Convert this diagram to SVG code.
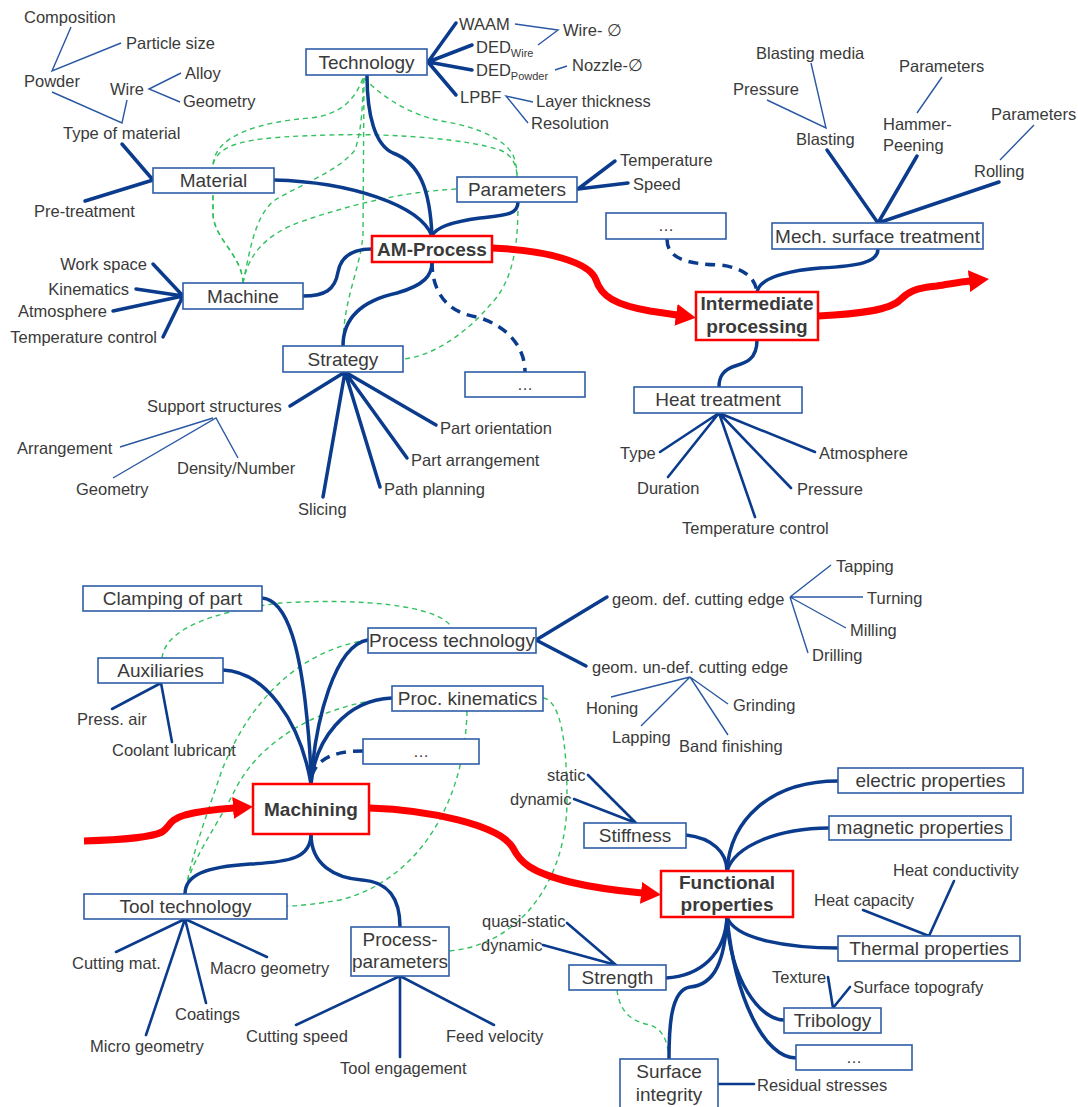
<svg xmlns="http://www.w3.org/2000/svg" width="1078" height="1107" viewBox="0 0 1078 1107">
<defs>
<style>
text{font-family:"Liberation Sans",Arial,sans-serif;fill:#3a3a3a;font-size:16.5px}
.c{text-anchor:middle;font-size:19px}
.e{text-anchor:end}
.b{font-weight:bold;text-anchor:middle;font-size:19px}
.box{fill:#fff;stroke:#2f5ea8;stroke-width:1.6}
.rbox{fill:#fff;stroke:#ff0000;stroke-width:2.5}
.k{fill:none;stroke:#0b3b8c;stroke-width:3.5;stroke-linecap:round}
.m{fill:none;stroke:#0b3b8c;stroke-width:2.6;stroke-linecap:round}
.t{fill:none;stroke:#2a58a3;stroke-width:1.4}
.d{stroke-dasharray:10 7;stroke-linecap:butt}
.g{fill:none;stroke:#33c060;stroke-width:1.4;stroke-dasharray:5 4}
.r{fill:none;stroke:#ff0000;stroke-width:7}
</style>
<marker id="ah" viewBox="0 0 20 22" refX="1" refY="11" markerWidth="20" markerHeight="22" markerUnits="userSpaceOnUse" orient="auto">
<path d="M0,0 L20,11 L0,22 z" fill="#ff0000"/>
</marker>
</defs>
<rect width="1078" height="1107" fill="#fff"/>
<g id="connectors">
<!-- green dashed relations -->
<path class="g" d="M243,283 C242,255 215,240 213,215 L213,165 C215,135 260,122 310,118 C340,115 355,100 363,78"/>
<path class="g" d="M243,283 C242,255 215,240 213,215 L213,165 C218,140 260,137 330,135 C400,133 470,140 500,150 C512,155 517,165 517,177"/>
<path class="g" d="M243,283 C250,250 255,215 275,200 C300,185 340,170 355,150 C362,130 363,100 363,78"/>
<path class="g" d="M243,283 C248,255 265,235 300,222 C350,205 400,192 457,189"/>
<path class="g" d="M364,78 L363,235 C360,270 343,300 343,346"/>
<path class="g" d="M364,78 C385,100 415,117 447,122 C480,128 505,140 513,155 C516,162 517,170 517,177"/>
<path class="g" d="M518,202 C518,240 515,280 490,305 C465,335 430,357 403,359"/>
<path class="g" d="M162,658 C165,630 210,612 280,603 C360,598 440,605 452,628"/>
<path class="g" d="M368,640 C300,650 250,700 222,770 C205,820 190,860 185,894"/>
<path class="g" d="M392,698 C320,705 260,740 235,790 C215,830 190,860 185,894"/>
<path class="g" d="M467,711 C465,800 420,880 340,900 C310,905 295,906 287,906"/>
<path class="g" d="M543,698 C560,700 567,740 567,800 C567,880 520,945 449,951"/>
<path class="g" d="M617,990 C620,1015 635,1022 650,1025 C665,1030 668,1045 669,1059"/>
<!-- thin sub-branches -->
<path class="t" d="M71,27 L52,71 L121,43"/>
<path class="t" d="M52,92 L122,123 L127,100"/>
<path class="t" d="M181,73 L149,89 L180,102"/>
<path class="t" d="M515,24 L558,30 L538,45 M555,70 L567,66 M533,102 L506,96 L528,123"/>
<path class="t" d="M767,100 L826,128 L811,63 M942,77 L917,113 M1034,125 L1000,160"/>
<path class="t" d="M120,447 L213,418 M113,478 L216,418 L238,458"/>
<path class="t" d="M790,597 L831,565 M790,597 L863,597 M790,597 L846,628 M790,597 L808,653"/>
<path class="t" d="M690,677 L611,697 M690,677 L641,726 M690,677 L728,735 M690,677 L728,704"/>
<!-- top section blue -->
<path class="k" d="M274,180 C350,182 420,205 432,236"/>
<path class="k" d="M367,75 C367,115 375,145 393,153 C420,163 430,190 432,236"/>
<path class="k" d="M518,202 C518,215 505,215 480,218 C450,222 435,228 432,236"/>
<path class="k" d="M303,296 C325,296 335,290 338,272 C341,255 355,249 372,249"/>
<path class="k" d="M343,346 C343,315 365,300 397,293 C425,285 432,275 432,262"/>
<path class="k d" d="M432,262 C432,290 445,312 477,317 C505,325 525,345 525,372"/>
<path class="k" d="M428,62 L456,23 M428,62 L472,45 M428,62 L472,70 M428,62 L456,95"/>
<path class="k" d="M122,144 L153,180 M85,201 L153,180"/>
<path class="k" d="M578,189 L615,161 M578,189 L628,183"/>
<path class="k" d="M183,296 L153,264 M183,296 L136,289 M183,296 L113,311 M183,296 L163,337"/>
<path class="k" d="M345,372 L290,406 M345,372 L436,425 M345,372 L407,458 M345,372 L380,487 M345,372 L323,497"/>
<path class="k" d="M827,150 L878,223 M917,156 L878,223 M999,182 L878,223"/>
<path class="k" d="M878,249 C878,262 860,266 820,268 C785,271 760,278 757,292"/>
<path class="k d" d="M667,239 C667,258 685,264 720,265 C745,268 755,278 757,292"/>
<path class="k" d="M757,340 C757,360 745,363 735,366 C722,370 719,378 719,387"/>
<path class="m" d="M719,413 L660,452 M719,413 L668,477 M719,413 L755,517 M719,413 L791,488 M719,413 L815,452"/>
<!-- bottom section blue -->
<path class="k" d="M262,598 C290,600 300,660 305,700 C309,735 311,760 311,784"/>
<path class="k" d="M223,670 C265,672 300,720 311,784"/>
<path class="k" d="M368,640 C335,645 315,720 311,784"/>
<path class="k" d="M392,698 C345,700 315,740 311,784"/>
<path class="k d" d="M363,751 C335,751 318,758 312,775"/>
<path class="k" d="M311,834 C311,858 290,862 250,864 C205,867 185,875 185,894"/>
<path class="k" d="M311,834 C311,865 335,878 362,880 C390,882 400,900 400,927"/>
<path class="k" d="M536,640 L607,597 M536,640 L586,666"/>
<path class="m" d="M161,683 L112,709 M161,683 L172,742"/>
<path class="m" d="M185,919 L116,952 M185,919 L267,957 M185,919 L206,1003 M185,919 L146,1035"/>
<path class="m" d="M400,976 L296,1025 M400,976 L400,1057 M400,976 L494,1025"/>
<path class="m" d="M588,775 L636,823 M574,799 L636,823"/>
<path class="k" d="M686,835 C712,838 727,852 727,871"/>
<path class="k" d="M838,781 C770,781 730,820 727,871"/>
<path class="k" d="M829,828 C780,828 735,845 727,871"/>
<path class="k" d="M727,917 C735,940 790,948 838,948"/>
<path class="k" d="M727,917 C725,955 700,976 666,978"/>
<path class="k" d="M727,917 C725,960 715,985 690,987 C670,990 669,1030 669,1059"/>
<path class="k" d="M727,917 C730,980 760,1020 784,1020"/>
<path class="k" d="M727,917 C735,1000 765,1058 796,1058"/>
<path class="m" d="M954,881 L929,936 M863,910 L929,936"/>
<path class="m" d="M828,977 L833,1008 L850,987"/>
<path class="m" d="M718,1084 L754,1084"/>
<path class="m" d="M567,923 L616,965 M543,945 L616,965"/>
<!-- red process flow -->
<path class="r" marker-end="url(#ah)" d="M492,248 C545,250 590,262 596,280 C601,296 615,305 650,311 L677,315"/>
<path class="r" marker-end="url(#ah)" d="M818,316 C860,314 890,310 900,300 C908,292 915,288 937,286 C950,284 960,282 970,281"/>
<path class="r" marker-end="url(#ah)" d="M84,841 C120,840 150,838 162,832 C170,827 168,820 185,815 C200,811 220,809 234,808"/>
<path class="r" marker-end="url(#ah)" d="M369,808 C430,810 500,825 513,848 C520,862 530,872 570,882 C595,888 620,891 642,893"/>
</g>
<!-- top-left material labels -->
<g id="composition"><text x="24" y="23">Composition</text></g>
<g id="particle-size"><text x="126" y="49">Particle size</text></g>
<g id="powder"><text x="24" y="87">Powder</text></g>
<g id="wire"><text x="110" y="95">Wire</text></g>
<g id="alloy"><text x="185" y="79">Alloy</text></g>
<g id="geometry-wire"><text x="183" y="107">Geometry</text></g>
<g id="type-of-material"><text x="63" y="139">Type of material</text></g>
<g id="pre-treatment"><text x="34" y="217">Pre-treatment</text></g>
<g id="material"><rect class="box" x="153" y="168" width="121" height="25"/><text class="c" x="213.5" y="187">Material</text></g>
<g id="technology"><rect class="box" x="306" y="49" width="121" height="26"/><text class="c" x="366.5" y="69">Technology</text></g>
<g id="waam"><text x="459" y="30">WAAM</text></g>
<g id="ded-wire"><text x="476" y="53">DED<tspan font-size="11" dy="4">Wire</tspan></text></g>
<g id="ded-powder"><text x="476" y="76">DED<tspan font-size="11" dy="4">Powder</tspan></text></g>
<g id="lpbf"><text x="460" y="103">LPBF</text></g>
<g id="wire-dia"><text x="563" y="36">Wire- ∅</text></g>
<g id="nozzle-dia"><text x="572" y="71">Nozzle-∅</text></g>
<g id="layer-thickness"><text x="536" y="107">Layer thickness</text></g>
<g id="resolution"><text x="531" y="129">Resolution</text></g>
<g id="parameters"><rect class="box" x="457" y="177" width="120" height="25"/><text class="c" x="517" y="196">Parameters</text></g>
<g id="temperature"><text x="620" y="166">Temperature</text></g>
<g id="speed"><text x="633" y="190">Speed</text></g>
<g id="am-process"><rect class="rbox" x="372" y="236" width="120" height="26"/><text class="b" x="432" y="256">AM-Process</text></g>
<g id="machine"><rect class="box" x="183" y="283" width="120" height="26"/><text class="c" x="243" y="303">Machine</text></g>
<g id="work-space"><text class="e" x="147" y="270">Work space</text></g>
<g id="kinematics"><text class="e" x="129" y="295">Kinematics</text></g>
<g id="atmosphere-m"><text class="e" x="107" y="317">Atmosphere</text></g>
<g id="temperature-control-m"><text class="e" x="157" y="343">Temperature control</text></g>
<g id="strategy"><rect class="box" x="283" y="346" width="120" height="26"/><text class="c" x="343" y="366">Strategy</text></g>
<g id="more-am"><rect class="box" x="465" y="372" width="120" height="25"/><text class="c" x="525" y="390" style="font-size:16px">…</text></g>
<g id="support-structures"><text x="147" y="412">Support structures</text></g>
<g id="arrangement"><text x="17" y="454">Arrangement</text></g>
<g id="density-number"><text x="177" y="474">Density/Number</text></g>
<g id="geometry-support"><text x="76" y="495">Geometry</text></g>
<g id="part-orientation"><text x="440" y="434">Part orientation</text></g>
<g id="part-arrangement"><text x="411" y="466">Part arrangement</text></g>
<g id="path-planning"><text x="384" y="495">Path planning</text></g>
<g id="slicing"><text x="298" y="515">Slicing</text></g>
<!-- top-right -->
<g id="blasting-media"><text x="756" y="59">Blasting media</text></g>
<g id="pressure-b"><text x="733" y="95">Pressure</text></g>
<g id="blasting"><text x="796" y="145">Blasting</text></g>
<g id="parameters-hp"><text x="899" y="72">Parameters</text></g>
<g id="hammer-peening"><text x="883" y="130">Hammer-</text><text x="883" y="151">Peening</text></g>
<g id="parameters-r"><text x="991" y="120">Parameters</text></g>
<g id="rolling"><text x="974" y="177">Rolling</text></g>
<g id="more-ip"><rect class="box" x="606" y="213" width="120" height="26"/><text class="c" x="666" y="231" style="font-size:16px">…</text></g>
<g id="mech-surface"><rect class="box" x="772" y="223" width="211" height="26"/><text class="c" x="877.5" y="243">Mech. surface treatment</text></g>
<g id="intermediate"><rect class="rbox" x="696" y="292" width="122" height="48"/><text class="b" x="757" y="310">Intermediate</text><text class="b" x="757" y="333">processing</text></g>
<g id="heat-treatment"><rect class="box" x="634" y="387" width="168" height="26"/><text class="c" x="718" y="406">Heat treatment</text></g>
<g id="type"><text x="620" y="459">Type</text></g>
<g id="duration"><text x="637" y="494">Duration</text></g>
<g id="temperature-control-h"><text x="682" y="534">Temperature control</text></g>
<g id="pressure-h"><text x="797" y="495">Pressure</text></g>
<g id="atmosphere-h"><text x="819" y="459">Atmosphere</text></g>
<!-- bottom-left machining -->
<g id="clamping"><rect class="box" x="83" y="586" width="179" height="25"/><text class="c" x="172.5" y="605">Clamping of part</text></g>
<g id="auxiliaries"><rect class="box" x="98" y="658" width="125" height="25"/><text class="c" x="160.5" y="677">Auxiliaries</text></g>
<g id="press-air"><text x="77" y="725">Press. air</text></g>
<g id="coolant"><text x="112" y="756">Coolant lubricant</text></g>
<g id="process-technology"><rect class="box" x="368" y="628" width="168" height="25"/><text class="c" x="452" y="647">Process technology</text></g>
<g id="proc-kinematics"><rect class="box" x="392" y="686" width="151" height="25"/><text class="c" x="467.5" y="705">Proc. kinematics</text></g>
<g id="more-mach"><rect class="box" x="363" y="739" width="116" height="25"/><text class="c" x="421" y="757" style="font-size:16px">…</text></g>
<g id="geom-def"><text x="612" y="605">geom. def. cutting edge</text></g>
<g id="geom-undef"><text x="592" y="673">geom. un-def. cutting edge</text></g>
<g id="tapping"><text x="836" y="572">Tapping</text></g>
<g id="turning"><text x="867" y="604">Turning</text></g>
<g id="milling"><text x="850" y="636">Milling</text></g>
<g id="drilling"><text x="812" y="661">Drilling</text></g>
<g id="honing"><text x="586" y="714">Honing</text></g>
<g id="lapping"><text x="612" y="743">Lapping</text></g>
<g id="band-finishing"><text x="679" y="752">Band finishing</text></g>
<g id="grinding"><text x="733" y="711">Grinding</text></g>
<g id="machining"><rect class="rbox" x="253" y="784" width="116" height="50"/><text class="b" x="311" y="816">Machining</text></g>
<g id="tool-technology"><rect class="box" x="84" y="894" width="203" height="25"/><text class="c" x="185.5" y="913">Tool technology</text></g>
<g id="process-parameters"><rect class="box" x="351" y="927" width="98" height="49"/><text class="c" x="400" y="946">Process-</text><text class="c" x="400" y="968">parameters</text></g>
<g id="cutting-mat"><text x="72" y="969">Cutting mat.</text></g>
<g id="macro-geometry"><text x="210" y="974">Macro geometry</text></g>
<g id="coatings"><text x="175" y="1020">Coatings</text></g>
<g id="micro-geometry"><text x="90" y="1052">Micro geometry</text></g>
<g id="cutting-speed"><text x="246" y="1042">Cutting speed</text></g>
<g id="tool-engagement"><text x="340" y="1074">Tool engagement</text></g>
<g id="feed-velocity"><text x="446" y="1042">Feed velocity</text></g>
<!-- bottom-right functional -->
<g id="static"><text x="547" y="781">static</text></g>
<g id="dynamic-s"><text x="510" y="805">dynamic</text></g>
<g id="stiffness"><rect class="box" x="584" y="823" width="102" height="25"/><text class="c" x="635" y="842">Stiffness</text></g>
<g id="electric"><rect class="box" x="838" y="768" width="185" height="25"/><text class="c" x="930.5" y="787">electric properties</text></g>
<g id="magnetic"><rect class="box" x="829" y="816" width="182" height="24"/><text class="c" x="920" y="834">magnetic properties</text></g>
<g id="functional"><rect class="rbox" x="661" y="871" width="132" height="46"/><text class="b" x="727" y="889">Functional</text><text class="b" x="727" y="911">properties</text></g>
<g id="heat-conductivity"><text x="893" y="876">Heat conductivity</text></g>
<g id="heat-capacity"><text x="814" y="906">Heat capacity</text></g>
<g id="thermal"><rect class="box" x="838" y="936" width="182" height="25"/><text class="c" x="929" y="955">Thermal properties</text></g>
<g id="quasi-static"><text x="482" y="927">quasi-static</text></g>
<g id="dynamic-st"><text x="481" y="951">dynamic</text></g>
<g id="strength"><rect class="box" x="569" y="965" width="97" height="25"/><text class="c" x="617.5" y="984">Strength</text></g>
<g id="texture"><text x="772" y="983">Texture</text></g>
<g id="surface-topografy"><text x="853" y="993">Surface topografy</text></g>
<g id="tribology"><rect class="box" x="784" y="1008" width="97" height="25"/><text class="c" x="832.5" y="1027">Tribology</text></g>
<g id="more-func"><rect class="box" x="796" y="1045" width="116" height="25"/><text class="c" x="854" y="1063" style="font-size:16px">…</text></g>
<g id="surface-integrity"><rect class="box" x="620" y="1059" width="98" height="60"/><text class="c" x="669" y="1078">Surface</text><text class="c" x="669" y="1101">integrity</text></g>
<g id="residual-stresses"><text x="757" y="1091">Residual stresses</text></g>
</svg>
